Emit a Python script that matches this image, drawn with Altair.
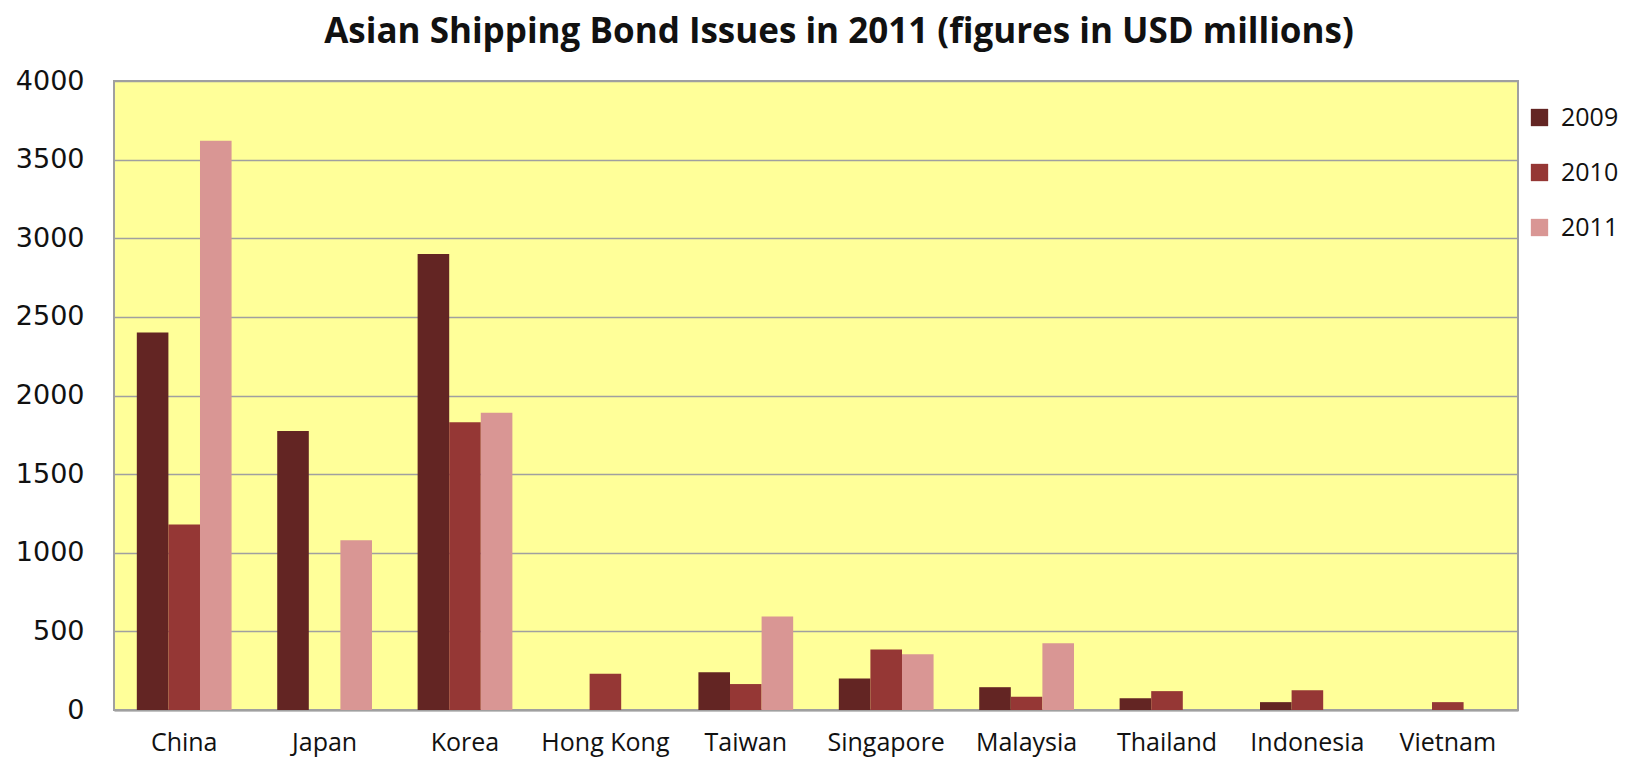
import altair as alt
import pandas as pd

countries = ["China", "Japan", "Korea", "Hong Kong", "Taiwan", "Singapore",
             "Malaysia", "Thailand", "Indonesia", "Vietnam"]
years = ["2009", "2010", "2011"]
v2009 = [2400, 1775, 2900, 0, 240, 200, 145, 75, 50, 0]
v2010 = [1180, 0, 1830, 230, 165, 385, 85, 120, 125, 50]
v2011 = [3620, 1080, 1890, 0, 595, 355, 425, 0, 0, 0]
colors = ["#632523", "#953735", "#D99694"]

rows = []
for y, vals in zip(years, [v2009, v2010, v2011]):
    for c, v in zip(countries, vals):
        if v > 0:
            rows.append({"country": c, "year": y, "value": v})
df = pd.DataFrame(rows)

chart = alt.Chart(df).mark_bar().encode(
    x=alt.X("country:N", sort=countries, title=None,
            scale=alt.Scale(paddingInner=0.325, paddingOuter=0.1625),
            axis=alt.Axis(labelAngle=0, labelFont="Open Sans", labelFontSize=25,
                          labelColor="#111111", labelPadding=20, ticks=False,
                          domainColor="#A0A0A0", domainWidth=2)),
    xOffset=alt.XOffset("year:N", sort=years, scale=alt.Scale(paddingInner=0, paddingOuter=0)),
    y=alt.Y("value:Q", title=None,
            scale=alt.Scale(domain=[0, 4000], nice=False),
            axis=alt.Axis(values=list(range(0, 4001, 500)), format="d", labelFont="DejaVu Sans",
                          labelFontSize=27, labelColor="#111111", labelPadding=30,
                          ticks=False, domain=False, gridColor="#A0A0A0", gridWidth=1.5)),
    color=alt.Color("year:N", sort=years, scale=alt.Scale(domain=years, range=colors),
                    legend=alt.Legend(title=None, orient="none", legendX=1413, legendY=24,
                                      symbolType="square", symbolSize=300,
                                      symbolStrokeWidth=0, labelFont="Open Sans",
                                      labelFontSize=25, labelColor="#111111",
                                      rowPadding=29, labelOffset=9)),
).properties(
    width=1404,
    height=629,
    title=alt.TitleParams("Asian Shipping Bond Issues in 2011 (figures in USD millions)",
                          font="Open Sans", fontSize=35, fontWeight="bold",
                          color="#111111", anchor="middle", dx=23, offset=17),
    autosize=alt.AutoSizeParams(type="none"),
    padding={"left": 106, "top": 73, "right": 120, "bottom": 48},
).configure(
    background="white"
).configure_view(
    fill="#FFFF99", stroke="#A0A0A0", strokeWidth=2
)

chart.save("out.html", embed_options={"renderer": "svg", "actions": False})
